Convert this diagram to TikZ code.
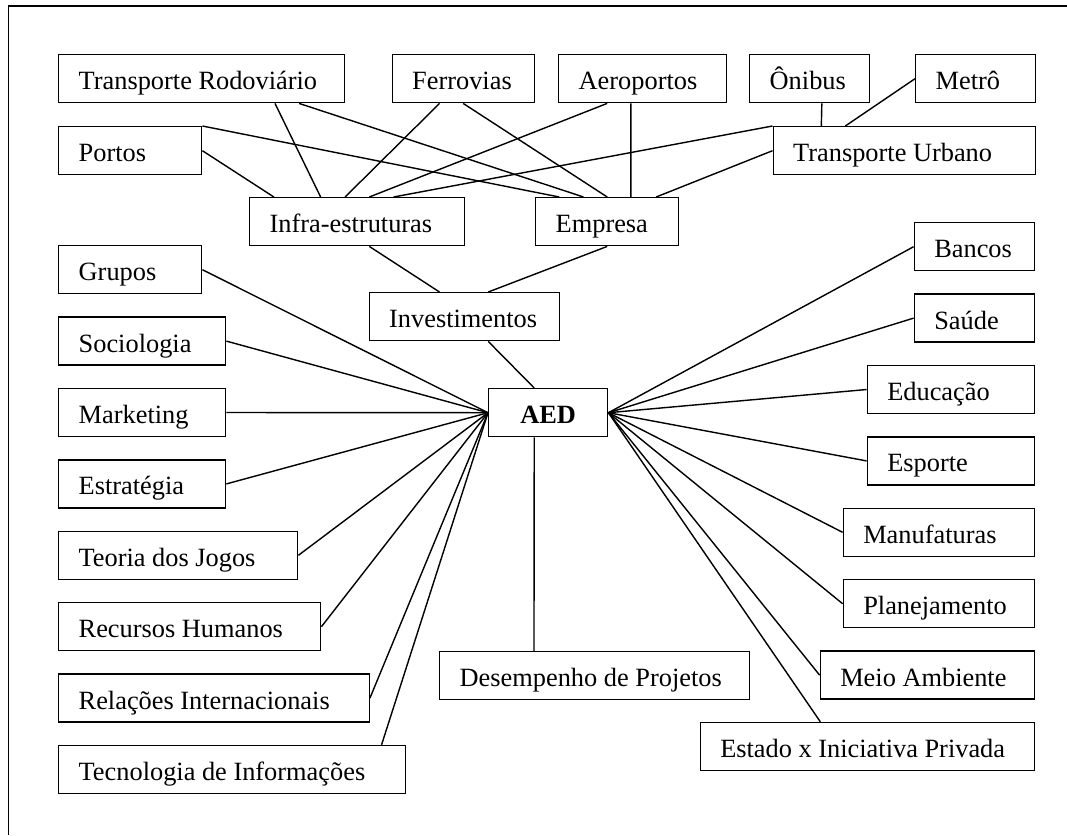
\documentclass[tikz,border=0pt]{standalone}
\usepackage{fontspec}
\setmainfont{Liberation Serif}
\usepackage{tikz}
\usetikzlibrary{calc,positioning}

\begin{document}
\begin{tikzpicture}[
  mybox/.style={draw,line width=0.8pt,anchor=north west,align=flush left,minimum height=0.96cm,inner xsep=0.4cm,inner ysep=0pt,text height=0.5cm,text depth=0.06cm,font=\fontsize{15}{18}\selectfont},
  myboxr/.style={mybox,anchor=north east},
  myboxc/.style={mybox,align=center,font=\fontsize{15}{18}\selectfont\bfseries},
  myline/.style={line width=0.8pt}
]
\useasboundingbox[fill=white] (0,0) rectangle (21.34,-16.70);
\draw[myline] (21.34,-0.12) -- (0.17,-0.12) -- (0.17,-16.70);

% topo
\node[mybox, text width=4.92cm] at (1.16,-1.08) (TR) {Transporte Rodoviário};
\node[mybox, text width=2.04cm] at (7.83,-1.08) (Fer) {Ferrovias};
\node[mybox, text width=2.56cm] at (11.16,-1.08) (Aer) {Aeroportos};
\node[mybox, text width=1.60cm] at (14.98,-1.08) (Oni) {Ônibus};
\node[mybox, text width=1.60cm] at (18.30,-1.08) (Met) {Metrô};
\node[mybox, text width=2.06cm] at (1.16,-2.52) (Por) {Portos};
\node[mybox, text width=4.45cm] at (15.45,-2.52) (TU) {Transporte Urbano};
\node[mybox, text width=3.50cm] at (4.98,-3.94) (Inf) {Infra-estruturas};
\node[mybox, text width=2.06cm] at (10.70,-3.94) (Emp) {Empresa};
\node[mybox, text width=3.01cm] at (7.37,-5.84) (Inv) {Investimentos};
\node[myboxc, text width=1.58cm] at (9.76,-7.76) (AED) {AED};
\node[mybox, text width=5.40cm] at (8.78,-13.02) (Des) {Desempenho de Projetos};

% coluna esquerda
\foreach \nome/\texto/\w [count=\i from 0] in {Gru/Grupos/2.06, Soc/Sociologia/2.54, Mkt/Marketing/2.54, Est/Estratégia/2.54, Teo/Teoria dos Jogos/3.98, Rec/Recursos Humanos/4.44, Rel/Relações Internacionais/5.41, Tec/Tecnologia de Informações/6.13}{
\node[mybox, text width=\w cm] at (1.16,{-4.90-1.428*\i}) (\nome) {\texto};
}
% coluna direita
\foreach \nome/\texto/\w [count=\i from 0] in {Ban/Bancos/1.60, Sau/Saúde/1.60, Edu/Educação/2.54, Esp/Esporte/2.54, Man/Manufaturas/3.02, Pla/Planejamento/3.02, Mei/Meio Ambiente/3.48, Eta/Estado x Iniciativa Privada/5.88}{
\node[myboxr, text width=\w cm] at (20.70,{-4.44-1.428*\i}) (\nome) {\texto};
}

\path[myline]
($(TR.south west)!0.755!(TR.south east)$) edge ($(Inf.north west)!0.331!(Inf.north east)$)
($(TR.south west)!0.839!(TR.south east)$) edge ($(Emp.north west)!0.336!(Emp.north east)$)
($(Fer.south west)!0.335!(Fer.south east)$) edge ($(Inf.north west)!0.444!(Inf.north east)$)
(Fer.south) edge (Emp.north)
($(Aer.south west)!0.29!(Aer.south east)$) edge ($(Inf.north west)!0.556!(Inf.north east)$)
($(Aer.south west)!0.43!(Aer.south east)$) edge ($(Emp.north west)!0.664!(Emp.north east)$)
(Por.east) edge ($(Inf.north west)!0.115!(Inf.north east)$)
(Por.north east) edge ($(Emp.north west)!0.168!(Emp.north east)$)
(TU.north west) edge ($(Inf.north west)!0.668!(Inf.north east)$)
(TU.west) edge ($(Emp.north west)!0.839!(Emp.north east)$)
($(Oni.south west)!0.6!(Oni.south east)$) edge ($(TU.north west)!0.185!(TU.north east)$)
(Met.west) edge ($(TU.north west)!0.276!(TU.north east)$);

\path[myline]
($(Inf.south west)!0.556!(Inf.south east)$) edge ($(Inv.north west)!0.37!(Inv.north east)$)
(Emp.south) edge ($(Inv.north west)!0.624!(Inv.north east)$)
($(Inv.south west)!0.624!(Inv.south east)$) edge ($(AED.north west)!0.384!(AED.north east)$)
($(AED.south west)!0.384!(AED.south east)$) edge ($(Des.north west)!0.305!(Des.north east)$);

\foreach \nome in {Gru,Soc,Mkt,Est,Teo,Rec,Rel}
\draw[myline] (\nome.east) -- (AED.west);
\draw[myline] ($(Tec.north west)!0.93!(Tec.north east)$) -- (AED.west);

\foreach \nome in {Ban,Sau,Edu,Esp,Man,Pla,Mei}
\draw[myline] (\nome.west) -- (AED.east);
\draw[myline] ($(Eta.north west)!0.36!(Eta.north east)$) -- (AED.east);

\end{tikzpicture}
\end{document}
